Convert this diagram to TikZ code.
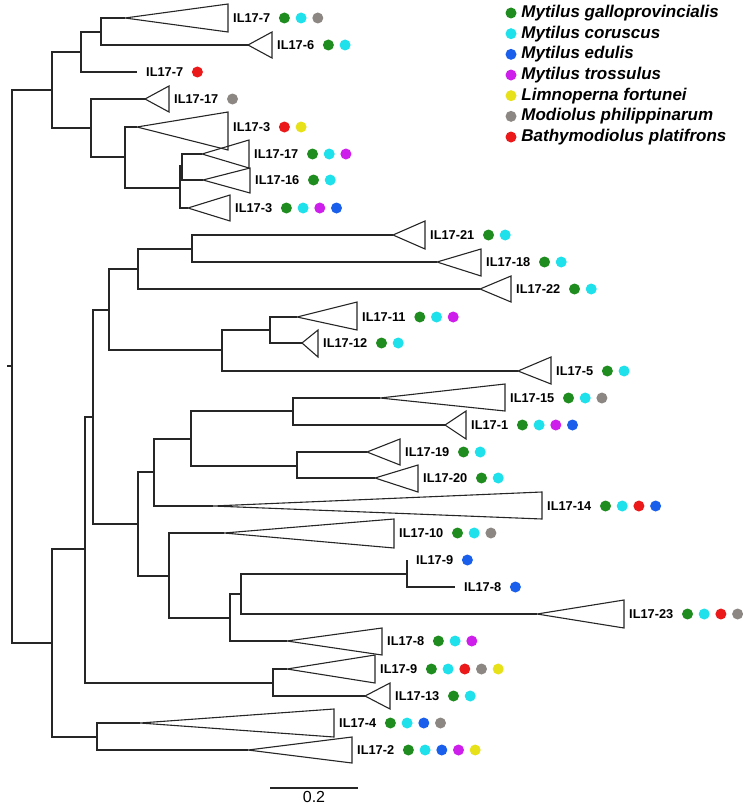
\documentclass[tikz,border=0pt]{standalone}
\usepackage{fontspec}
\setmainfont{Liberation Sans}
\usepackage{tikz}
\usetikzlibrary{positioning}
\definecolor{gal}{RGB}{30,140,30}
\definecolor{cor}{RGB}{30,225,235}
\definecolor{edu}{RGB}{25,95,235}
\definecolor{tro}{RGB}{205,30,235}
\definecolor{lfo}{RGB}{230,225,25}
\definecolor{mph}{RGB}{140,135,130}
\definecolor{bpl}{RGB}{235,25,25}

\begin{document}
\begin{tikzpicture}[x=1pt,y=-1pt,
  br/.style={line width=1.1pt,draw=black!85},
  lab/.style={inner sep=0pt,anchor=west,font=\bfseries\fontsize{12.8}{14}\selectfont},
  dot/.style={circle,inner sep=0pt,minimum size=11pt},
  leg/.style={inner sep=0pt,anchor=west,font=\bfseries\itshape\fontsize{17}{19}\selectfont}]
\useasboundingbox (0,0) rectangle (742,808);

% internal nodes of the tree
\foreach \n/\px/\py in {n0/12/366, n1/52/90, n2/81/52, n3/101/32, n4/91/128,
  n5/125/157, n6/180/188, n7/182/166, n8/52/643, n9/85/549, n10/273/683,
  n11/93/417, n12/109/310, n13/138/269, n14/192/249, n15/222/350, n16/270/330,
  n17/138/524, n18/154/472, n19/191/439, n20/293/411, n21/297/466, n22/169/576,
  n23/230/618, n24/241/594, n25/407/574, n26/97/737}
  \coordinate (\n) at (\px,\py);

% collapsed clades
\foreach \n/\ax/\ay/\bx/\top/\bot/\lab/\sp in {
  c7g/125/18/228/4/32/IL17-7/{gal,cor,mph},
  c6/248/45/272/32/58/IL17-6/{gal,cor},
  c17m/145/99/169/86/112/IL17-17/{mph},
  c3b/137/127/228/112/150/IL17-3/{bpl,lfo},
  c17g/202/154/249/140/168/IL17-17/{gal,cor,tro},
  c16/203/180/250/168/193/IL17-16/{gal,cor},
  c3g/188/208/230/195/221/IL17-3/{gal,cor,tro,edu},
  c21/393/235/425/221/249/IL17-21/{gal,cor},
  c18/437/262/481/249/276/IL17-18/{gal,cor},
  c22/480/289/511/276/302/IL17-22/{gal,cor},
  c11/297/317/357/302/330/IL17-11/{gal,cor,tro},
  c12/302/343/318/330/357/IL17-12/{gal,cor},
  c5/518/371/551/357/384/IL17-5/{gal,cor},
  c15/380/398/505/384/411/IL17-15/{gal,cor,mph},
  c1/445/425/466/411/439/IL17-1/{gal,cor,tro,edu},
  c19/367/452/400/439/465/IL17-19/{gal,cor},
  c20/375/478/418/465/492/IL17-20/{gal,cor},
  c14/213/506/542/492/519/IL17-14/{gal,cor,bpl,edu},
  c10/224/533/394/519/548/IL17-10/{gal,cor,mph},
  c23/537/614/624/600/628/IL17-23/{gal,cor,bpl,mph},
  c8g/287/641/382/628/655/IL17-8/{gal,cor,tro},
  c9g/287/669/375/655/683/IL17-9/{gal,cor,bpl,mph,lfo},
  c13/365/696/390/683/709/IL17-13/{gal,cor},
  c4/140/723/334/709/737/IL17-4/{gal,cor,edu,mph},
  c2/248/750/352/737/763/IL17-2/{gal,cor,edu,tro,lfo}} {
  \coordinate (\n) at (\ax,\ay);
  \draw[br] (\n) -- (\bx,\top) -- (\bx,\bot) -- cycle;
  \node[lab] (l\n) at (\bx+5,\ay) {\lab};
  \foreach \c [count=\i] in \sp
    \node[dot,fill=\c] at ([xshift=\i*16.7-2.7]l\n.east) {};
}

% single sequences
\foreach \n/\ax/\ay/\lab/\sp in {c7b/137/72/IL17-7/{bpl},
  c9e/407/560/IL17-9/{edu}, c8e/455/587/IL17-8/{edu}} {
  \coordinate (\n) at (\ax,\ay);
  \node[lab] (l\n) at (\ax+9,\ay) {\lab};
  \foreach \c [count=\i] in \sp
    \node[dot,fill=\c] at ([xshift=\i*16.7-2.7]l\n.east) {};
}

% branches
\foreach \p/\c in {n0/n1, n0/n8, n1/n2, n1/n4, n2/n3, n2/c7b, n3/c7g, n3/c6,
  n4/c17m, n4/n5, n5/c3b, n5/n6, n6/n7, n6/c3g, n7/c17g, n7/c16,
  n8/n9, n8/n26, n9/n11, n9/n10, n10/c9g, n10/c13, n11/n12, n11/n17,
  n12/n13, n12/n15, n13/n14, n13/c22, n14/c21, n14/c18, n15/n16, n15/c5,
  n16/c11, n16/c12, n17/n18, n17/n22, n18/n19, n18/c14, n19/n20, n19/n21,
  n20/c15, n20/c1, n21/c19, n21/c20, n22/c10, n22/n23, n23/n24, n23/c8g,
  n24/n25, n24/c23, n25/c9e, n25/c8e, n26/c4, n26/c2}
  \draw[br] (\p) |- (\c);
\coordinate (n0t) at (7,366);
\draw[br] (n0t) -- (n0);

% legend
\foreach \c/\t [count=\i] in {gal/Mytilus galloprovincialis, cor/Mytilus coruscus,
  edu/Mytilus edulis, tro/Mytilus trossulus, lfo/Limnoperna fortunei,
  mph/Modiolus philippinarum, bpl/Bathymodiolus platifrons} {
  \node[dot,fill=\c] (s\i) at (511,{13+(\i-1)*20.67}) {};
  \node[leg,right=4.5pt of s\i] (st\i) {\t};
}

% scale bar
\coordinate (sb1) at (270,788);
\coordinate (sb2) at (358,788);
\draw[br] (sb1) -- node[below=3pt,inner sep=0pt,font=\fontsize{16}{18}\selectfont] (sbl) {0.2} (sb2);
\end{tikzpicture}
\end{document}
